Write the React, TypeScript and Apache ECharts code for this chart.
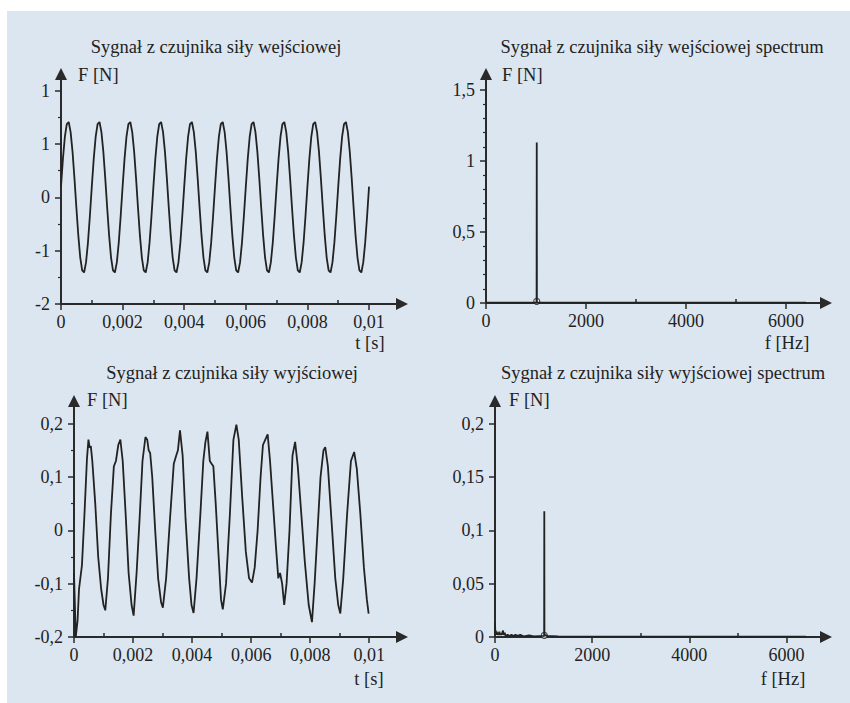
import React, { useEffect, useRef } from 'react';
import * as echarts from 'echarts';

// ---------- data ----------
// input force signal, sampled every 0.0000625 s
const inputStep = 0.0000625;
const inputValues = [
  0.20, 0.72, 1.13, 1.37, 1.41, 1.22, 0.85, 0.35, -0.20, -0.72, -1.13, -1.37, -1.41, -1.22, -0.85, -0.35,
  0.20, 0.72, 1.13, 1.37, 1.41, 1.22, 0.85, 0.35, -0.20, -0.72, -1.13, -1.37, -1.41, -1.22, -0.85, -0.35,
  0.20, 0.72, 1.13, 1.37, 1.41, 1.22, 0.85, 0.35, -0.20, -0.72, -1.13, -1.37, -1.41, -1.22, -0.85, -0.35,
  0.20, 0.72, 1.13, 1.37, 1.41, 1.22, 0.85, 0.35, -0.20, -0.72, -1.13, -1.37, -1.41, -1.22, -0.85, -0.35,
  0.20, 0.72, 1.13, 1.37, 1.41, 1.22, 0.85, 0.35, -0.20, -0.72, -1.13, -1.37, -1.41, -1.22, -0.85, -0.35,
  0.20, 0.72, 1.13, 1.37, 1.41, 1.22, 0.85, 0.35, -0.20, -0.72, -1.13, -1.37, -1.41, -1.22, -0.85, -0.35,
  0.20, 0.72, 1.13, 1.37, 1.41, 1.22, 0.85, 0.35, -0.20, -0.72, -1.13, -1.37, -1.41, -1.22, -0.85, -0.35,
  0.20, 0.72, 1.13, 1.37, 1.41, 1.22, 0.85, 0.35, -0.20, -0.72, -1.13, -1.37, -1.41, -1.22, -0.85, -0.35,
  0.20, 0.72, 1.13, 1.37, 1.41, 1.22, 0.85, 0.35, -0.20, -0.72, -1.13, -1.37, -1.41, -1.22, -0.85, -0.35,
  0.20, 0.72, 1.13, 1.37, 1.41, 1.22, 0.85, 0.35, -0.20, -0.72, -1.13, -1.37, -1.41, -1.22, -0.85, -0.35,
  0.20,
];

// output force signal: [time in ms, force N]
const outputPoints: [number, number][] = [
  [0.00, -0.08], [0.06, -0.20], [0.12, -0.17], [0.17, -0.11], [0.27, -0.065], [0.35, 0.025],
  [0.44, 0.135], [0.49, 0.17], [0.53, 0.155], [0.57, 0.158], [0.62, 0.13], [0.72, 0.05],
  [0.82, -0.05], [0.92, -0.11], [1.00, -0.14], [1.06, -0.15], [1.15, -0.09], [1.25, 0.03],
  [1.35, 0.12], [1.42, 0.13], [1.50, 0.16], [1.57, 0.17], [1.65, 0.13], [1.75, 0.03],
  [1.85, -0.08], [1.95, -0.14], [2.02, -0.16], [2.12, -0.08], [2.22, 0.02], [2.32, 0.13],
  [2.42, 0.175], [2.48, 0.17], [2.53, 0.15], [2.58, 0.145], [2.65, 0.10], [2.75, 0.0],
  [2.85, -0.09], [2.95, -0.135], [3.01, -0.145], [3.12, -0.09], [3.25, 0.02], [3.38, 0.125],
  [3.46, 0.14], [3.52, 0.15], [3.59, 0.1875], [3.68, 0.14], [3.78, 0.02], [3.90, -0.09],
  [3.98, -0.14], [4.05, -0.155], [4.15, -0.09], [4.28, 0.03], [4.38, 0.13], [4.45, 0.165],
  [4.52, 0.185], [4.60, 0.13], [4.66, 0.125], [4.72, 0.12], [4.80, 0.05], [4.90, -0.05],
  [4.98, -0.13], [5.04, -0.148], [5.15, -0.10], [5.28, 0.03], [5.40, 0.17], [5.50, 0.198],
  [5.58, 0.17], [5.70, 0.06], [5.82, -0.04], [5.93, -0.09], [6.03, -0.098], [6.12, -0.07],
  [6.22, 0.0], [6.32, 0.10], [6.40, 0.16], [6.48, 0.17], [6.56, 0.18], [6.64, 0.13],
  [6.74, 0.05], [6.84, -0.03], [6.92, -0.09], [6.98, -0.08], [7.05, -0.10], [7.12, -0.14],
  [7.20, -0.10], [7.30, 0.00], [7.40, 0.14], [7.49, 0.166], [7.58, 0.12], [7.70, 0.03],
  [7.82, -0.06], [7.95, -0.14], [8.06, -0.172], [8.15, -0.10], [8.25, 0.0], [8.35, 0.10],
  [8.45, 0.15], [8.51, 0.156], [8.60, 0.12], [8.72, 0.02], [8.85, -0.09], [8.95, -0.14],
  [9.02, -0.156], [9.12, -0.09], [9.25, 0.03], [9.38, 0.13], [9.49, 0.147], [9.58, 0.115],
  [9.70, 0.03], [9.82, -0.07], [9.92, -0.13], [9.98, -0.156],
];

// spectra: [frequency Hz, amplitude N]
const inSpectrum: [number, number][] = [
  [0, 0.003], [1012, 0.003], [1015, 1.13], [1018, 0.003], [6400, 0.002],
];
const inSpectrumMarker: [number, number][] = [[1015, 0.012]];

const outSpectrum: [number, number][] = [
  [0, 0.013], [8, 0.002], [15, 0.006], [25, 0.003], [35, 0.005], [45, 0.002], [60, 0.004],
  [75, 0.002], [90, 0.005], [105, 0.002], [120, 0.003], [135, 0.002], [150, 0.004], [165, 0.006],
  [180, 0.002], [200, 0.004], [220, 0.001], [260, 0.002], [300, 0.001], [340, 0.002], [380, 0.001],
  [420, 0.002], [470, 0.001], [520, 0.002], [600, 0.0005], [700, 0.0015], [800, 0.0005],
  [1012, 0.001], [1015, 0.118], [1018, 0.002], [1080, 0.001], [1300, 0.0005], [6400, 0.0003],
];
const outSpectrumMarker: [number, number][] = [[1015, 0.0015]];

// ticks
const timeTicks = [0, 0.002, 0.004, 0.006, 0.008, 0.01];
const timeTickLabels = ['0', '0,002', '0,004', '0,006', '0,008', '0,01'];
const timeMinorTicks = [0.001, 0.003, 0.005, 0.007, 0.009];
const freqTicks = [0, 2000, 4000, 6000];
const freqTickLabels = ['0', '2000', '4000', '6000'];
const freqMinorTicks = [1000, 3000, 5000];

const tlYTicks = [-2, -1, 0, 1, 2];
const tlYLabels = ['-2', '-1', '0', '1', '1'];
const tlYMinor = [-1.5, -0.5, 0.5, 1.5];
const trYTicks = [0, 0.5, 1, 1.5];
const trYLabels = ['0', '0,5', '1', '1,5'];
const trYMinor = [0.1, 0.2, 0.3, 0.4, 0.6, 0.7, 0.8, 0.9, 1.1, 1.2, 1.3, 1.4];
const blYTicks = [-0.2, -0.1, 0, 0.1, 0.2];
const blYLabels = ['-0,2', '-0,1', '0', '0,1', '0,2'];
const blYMinor = [-0.15, -0.05, 0.05, 0.15];
const brYTicks = [0, 0.05, 0.1, 0.15, 0.2];
const brYLabels = ['0', '0,05', '0,1', '0,15', '0,2'];
const brYMinor: number[] = [];

const titles = [
  'Sygnał z czujnika siły wejściowej',
  'Sygnał z czujnika siły wejściowej spectrum',
  'Sygnał z czujnika siły wyjściowej',
  'Sygnał z czujnika siły wyjściowej spectrum',
];

// ---------- styling ----------
const FONT = "'Liberation Serif', 'Times New Roman', serif";
const INK = '#222222';
const AXIS = '#2a2a2a';

function lookup(ticks: number[], labels: string[]) {
  return (v: number) => {
    const i = ticks.findIndex((t) => Math.abs(t - v) < 1e-9);
    return i >= 0 ? labels[i] : '';
  };
}

type Panel = {
  grid: { left: number; top: number; width: number; height: number };
  xMin: number; xMax: number; yMin: number; yMax: number;
  xTicks: number[]; xLabels: string[]; xMinor: number[];
  yTicks: number[]; yLabels: string[]; yMinor: number[];
};

const panels: Panel[] = [
  { grid: { left: 61, top: 74, width: 341, height: 230 }, xMin: 0, xMax: 0.01107, yMin: -2, yMax: 2.31,
    xTicks: timeTicks, xLabels: timeTickLabels, xMinor: timeMinorTicks, yTicks: tlYTicks, yLabels: tlYLabels, yMinor: tlYMinor },
  { grid: { left: 486, top: 74, width: 340, height: 229 }, xMin: 0, xMax: 6800, yMin: 0, yMax: 1.613,
    xTicks: freqTicks, xLabels: freqTickLabels, xMinor: freqMinorTicks, yTicks: trYTicks, yLabels: trYLabels, yMinor: trYMinor },
  { grid: { left: 74, top: 401, width: 328, height: 236 }, xMin: 0, xMax: 0.01111, yMin: -0.2, yMax: 0.2425,
    xTicks: timeTicks, xLabels: timeTickLabels, xMinor: timeMinorTicks, yTicks: blYTicks, yLabels: blYLabels, yMinor: blYMinor },
  { grid: { left: 495, top: 401, width: 331, height: 236 }, xMin: 0, xMax: 6815, yMin: 0, yMax: 0.2213,
    xTicks: freqTicks, xLabels: freqTickLabels, xMinor: freqMinorTicks, yTicks: brYTicks, yLabels: brYLabels, yMinor: brYMinor },
];

export default function App() {
  const ref = useRef<HTMLDivElement>(null);

  useEffect(() => {
    if (!ref.current) return;
    const chart = echarts.init(ref.current, undefined, { renderer: 'svg' });

    const grids: any[] = [];
    const xAxes: any[] = [];
    const yAxes: any[] = [];
    panels.forEach((p, i) => {
      grids.push({ ...p.grid, containLabel: false });
      xAxes.push({
        type: 'value', gridIndex: i, min: p.xMin, max: p.xMax, position: 'bottom',
        axisLine: { show: true, onZero: false, symbol: ['none', 'triangle'], symbolSize: [12, 12],
          lineStyle: { color: AXIS, width: 2 } },
        axisTick: { show: true, customValues: p.xTicks, length: 6, lineStyle: { color: AXIS, width: 1.5 } },
        axisLabel: { show: true, customValues: p.xTicks, formatter: lookup(p.xTicks, p.xLabels), margin: 9,
          fontFamily: FONT, fontSize: 18, color: INK },
        splitLine: { show: false },
      });
      xAxes.push({
        type: 'value', gridIndex: i, min: p.xMin, max: p.xMax, position: 'bottom',
        axisLine: { show: false, onZero: false },
        axisTick: { show: true, inside: true, customValues: p.xMinor, length: 4, lineStyle: { color: AXIS, width: 1.5 } },
        axisLabel: { show: false },
        splitLine: { show: false },
      });
      yAxes.push({
        type: 'value', gridIndex: i, min: p.yMin, max: p.yMax, position: 'left',
        axisLine: { show: true, onZero: false, symbol: ['none', 'triangle'], symbolSize: [12, 12],
          lineStyle: { color: AXIS, width: 2 } },
        axisTick: { show: true, customValues: p.yTicks, length: 6, lineStyle: { color: AXIS, width: 1.5 } },
        axisLabel: { show: true, customValues: p.yTicks, formatter: lookup(p.yTicks, p.yLabels), margin: 11,
          fontFamily: FONT, fontSize: 18, color: INK },
        splitLine: { show: false },
      });
      yAxes.push({
        type: 'value', gridIndex: i, min: p.yMin, max: p.yMax, position: 'left',
        axisLine: { show: false, onZero: false },
        axisTick: { show: p.yMinor.length > 0, customValues: p.yMinor.length ? p.yMinor : [p.yMin], length: 3,
          lineStyle: { color: AXIS, width: 1.2 } },
        axisLabel: { show: false },
        splitLine: { show: false },
      });
    });

    const lineStyle = { color: INK, width: 1.8 };
    const series: any[] = [
      { type: 'line', xAxisIndex: 0, yAxisIndex: 0, showSymbol: false, lineStyle,
        data: inputValues.map((v, i) => [i * inputStep, v]) },
      { type: 'line', xAxisIndex: 2, yAxisIndex: 2, showSymbol: false, lineStyle,
        data: inSpectrum },
      { type: 'scatter', xAxisIndex: 2, yAxisIndex: 2, symbol: 'circle', symbolSize: 6,
        itemStyle: { color: '#ffffff', borderColor: INK, borderWidth: 1.2 }, data: inSpectrumMarker },
      { type: 'line', xAxisIndex: 4, yAxisIndex: 4, showSymbol: false, lineStyle,
        data: outputPoints.map(([ms, v]) => [ms / 1000, v]) },
      { type: 'line', xAxisIndex: 6, yAxisIndex: 6, showSymbol: false, lineStyle,
        data: outSpectrum },
      { type: 'scatter', xAxisIndex: 6, yAxisIndex: 6, symbol: 'circle', symbolSize: 6,
        itemStyle: { color: '#ffffff', borderColor: INK, borderWidth: 1.2 }, data: outSpectrumMarker },
    ];

    const txt = (text: string, x: number, y: number, align = 'center', size = 18.5) => ({
      type: 'text', x, y, silent: true,
      style: { text, fontFamily: FONT, fontSize: size, fill: INK, align, verticalAlign: 'middle' },
    });

    chart.setOption({
      animation: false,
      backgroundColor: 'transparent',
      grid: grids,
      xAxis: xAxes,
      yAxis: yAxes,
      series,
      graphic: [
        txt(titles[0], 216, 47),
        txt(titles[1], 662, 47),
        txt(titles[2], 232, 373),
        txt(titles[3], 663, 373),
        txt('F [N]', 78, 75, 'left'),
        txt('F [N]', 502, 75, 'left'),
        txt('F [N]', 87, 400, 'left'),
        txt('F [N]', 509, 400, 'left'),
        txt('t [s]', 370, 343),
        txt('f [Hz]', 787, 343),
        txt('t [s]', 369, 679),
        txt('f [Hz]', 783, 679),
      ],
    });

    return () => chart.dispose();
  }, []);

  return (
    <div style={{ position: 'absolute', left: 0, top: 0, width: 850, height: 703, background: '#ffffff' }}>
      <div style={{ position: 'absolute', left: 7, top: 11, width: 843, height: 692, background: '#dce6f0' }} />
      <div ref={ref} style={{ position: 'absolute', left: 0, top: 0, width: 850, height: 703 }} />
    </div>
  );
}
